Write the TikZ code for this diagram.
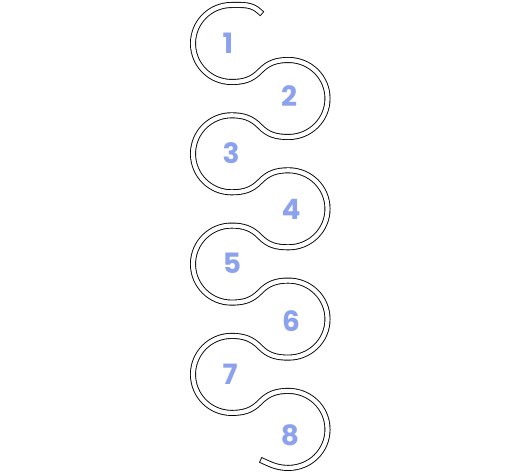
\documentclass[tikz,border=0pt]{standalone}
\usepackage{fontspec}
\newfontfamily\digitfont{Poppins}
\definecolor{digitcol}{HTML}{8DA2EE}
\tikzset{
  tube/.style={draw=black, line width=0.9pt, double=white, double distance=4.2pt, line cap=rect, line join=round},
  numlabel/.style={inner sep=0pt, text=digitcol, font=\digitfont\bfseries\fontsize{28}{28}\selectfont}
}
\begin{document}
\begin{tikzpicture}[x=1pt,y=1pt]
\useasboundingbox (0,0) rectangle (529,-473);
\foreach \k in {0,...,3}{
  \pgfmathsetmacro\o{110.3*\k}
  \coordinate (Lt\k) at (231.5,{-5-\o});
  \coordinate (Ll\k) at (193,{-43.5-\o});
  \coordinate (Lb\k) at (231.5,{-82-\o});
  \coordinate (A\k) at (260,{-71.2-\o});
  \coordinate (Rt\k) at (288.5,{-60-\o});
  \coordinate (Rr\k) at (327.5,{-98.5-\o});
  \coordinate (Rb\k) at (288.5,{-137-\o});
  \coordinate (B\k) at (260,{-126.5-\o});
}
\coordinate (S) at (260,-12);
\coordinate (E) at (263,-461);
\draw[tube] (S) to[out=135,in=0] (Lt0)
  to[out=180,in=90] (Ll0) to[out=270,in=180] (Lb0) to[out=0,in=226] (A0)
  to[out=46,in=180] (Rt0) to[out=0,in=90] (Rr0) to[out=270,in=0] (Rb0)
  to[out=180,in=314] (B0) to[out=134,in=0] (Lt1)
  to[out=180,in=90] (Ll1) to[out=270,in=180] (Lb1) to[out=0,in=226] (A1)
  to[out=46,in=180] (Rt1) to[out=0,in=90] (Rr1) to[out=270,in=0] (Rb1)
  to[out=180,in=314] (B1) to[out=134,in=0] (Lt2)
  to[out=180,in=90] (Ll2) to[out=270,in=180] (Lb2) to[out=0,in=226] (A2)
  to[out=46,in=180] (Rt2) to[out=0,in=90] (Rr2) to[out=270,in=0] (Rb2)
  to[out=180,in=314] (B2) to[out=134,in=0] (Lt3)
  to[out=180,in=90] (Ll3) to[out=270,in=180] (Lb3) to[out=0,in=226] (A3)
  to[out=46,in=180] (Rt3) to[out=0,in=90] (Rr3) to[out=270,in=0] (Rb3)
  to[out=180,in=335] (E);
\foreach \n/\x/\y in {1/228/43, 2/289/96, 3/231/153, 4/291/209, 5/232/263, 6/291/321, 7/230/374, 8/290/435}{
  \node[numlabel] (n\n) at (\x,-\y) {\n};
}
\end{tikzpicture}
\end{document}
